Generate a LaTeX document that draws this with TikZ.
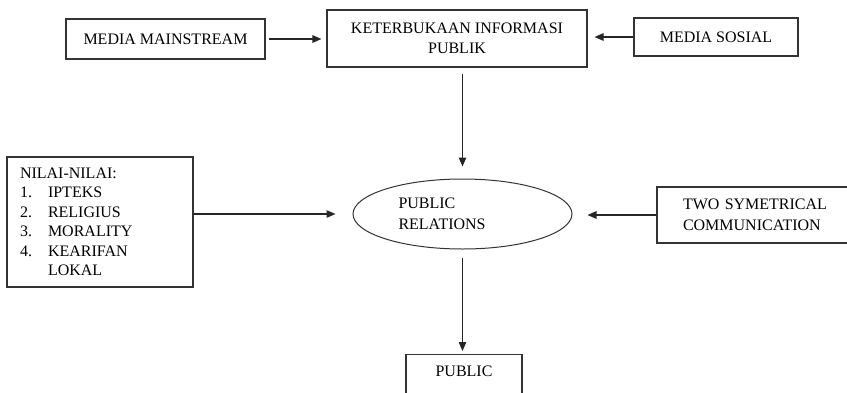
\documentclass[tikz,border=0pt]{standalone}
\usepackage{fontspec}
\setmainfont{Liberation Serif}
\usetikzlibrary{arrows.meta,shapes.geometric}

\begin{document}
\begin{tikzpicture}[x=1pt,y=-1pt,
  box/.style={draw=black!80,line width=1.1pt,rectangle,inner sep=0pt,
    font=\fontsize{16}{20}\selectfont},
  conn/.style={draw=black!85,line width=1.2pt,
    -{Triangle[length=9pt,width=7.5pt]}}]
\useasboundingbox (0,0) rectangle (847,392);

% top row
\node[box,minimum width=199pt,minimum height=40pt] (mm) at (165.5,39)
  {MEDIA MAINSTREAM};
\node[box,minimum width=260pt,minimum height=57pt,align=center] (ket) at (457,38.5)
  {KETERBUKAAN INFORMASI\\PUBLIK};
\node[box,minimum width=164pt,minimum height=38pt] (ms) at (716,37)
  {MEDIA SOSIAL};

% middle row
\node[box,minimum width=186pt,minimum height=130pt,text width=160pt,align=left,
  font=\fontsize{16}{19.5}\selectfont] (nilai) at (100,222)
  {NILAI-NILAI:\\
   \makebox[28pt][l]{1.}IPTEKS\\
   \makebox[28pt][l]{2.}RELIGIUS\\
   \makebox[28pt][l]{3.}MORALITY\\
   \makebox[28pt][l]{4.}KEARIFAN\\
   \hspace*{28pt}LOKAL};
\node[ellipse,draw=black!80,line width=1pt,minimum width=219pt,minimum height=70pt,
  text width=128pt,align=left,inner sep=0pt,
  font=\fontsize{16}{21}\selectfont] (pr) at (462.5,214)
  {PUBLIC\\RELATIONS};
\node[box,minimum width=201pt,minimum height=56pt,text width=149pt,align=left,
  font=\fontsize{16}{21}\selectfont] (two) at (757.5,215)
  {TWO SYMETRICAL\\COMMUNICATION};

% bottom
\node[box,anchor=north,minimum width=116pt,text height=11pt,text depth=14pt,
  inner ysep=11pt] (pub) at (464,354) {PUBLIC};

% connectors
\draw[conn,shorten <=3pt,shorten >=5pt] (mm.east) -- (mm.east -| ket.west);
\draw[conn,shorten >=7pt] (ms.west) -- (ms.west -| ket.east);
\draw[conn,shorten <=6pt,shorten >=12pt] (ket.south -| pr.north) -- (pr.north);
\draw[conn,shorten >=17pt] (nilai.east |- pr.west) -- (pr.west);
\draw[conn,shorten >=15pt] (two.west) -- (two.west -| pr.east);
\draw[conn,shorten <=8pt,shorten >=3pt] (pr.south) -- (pr.south |- pub.north);
\end{tikzpicture}
\end{document}
